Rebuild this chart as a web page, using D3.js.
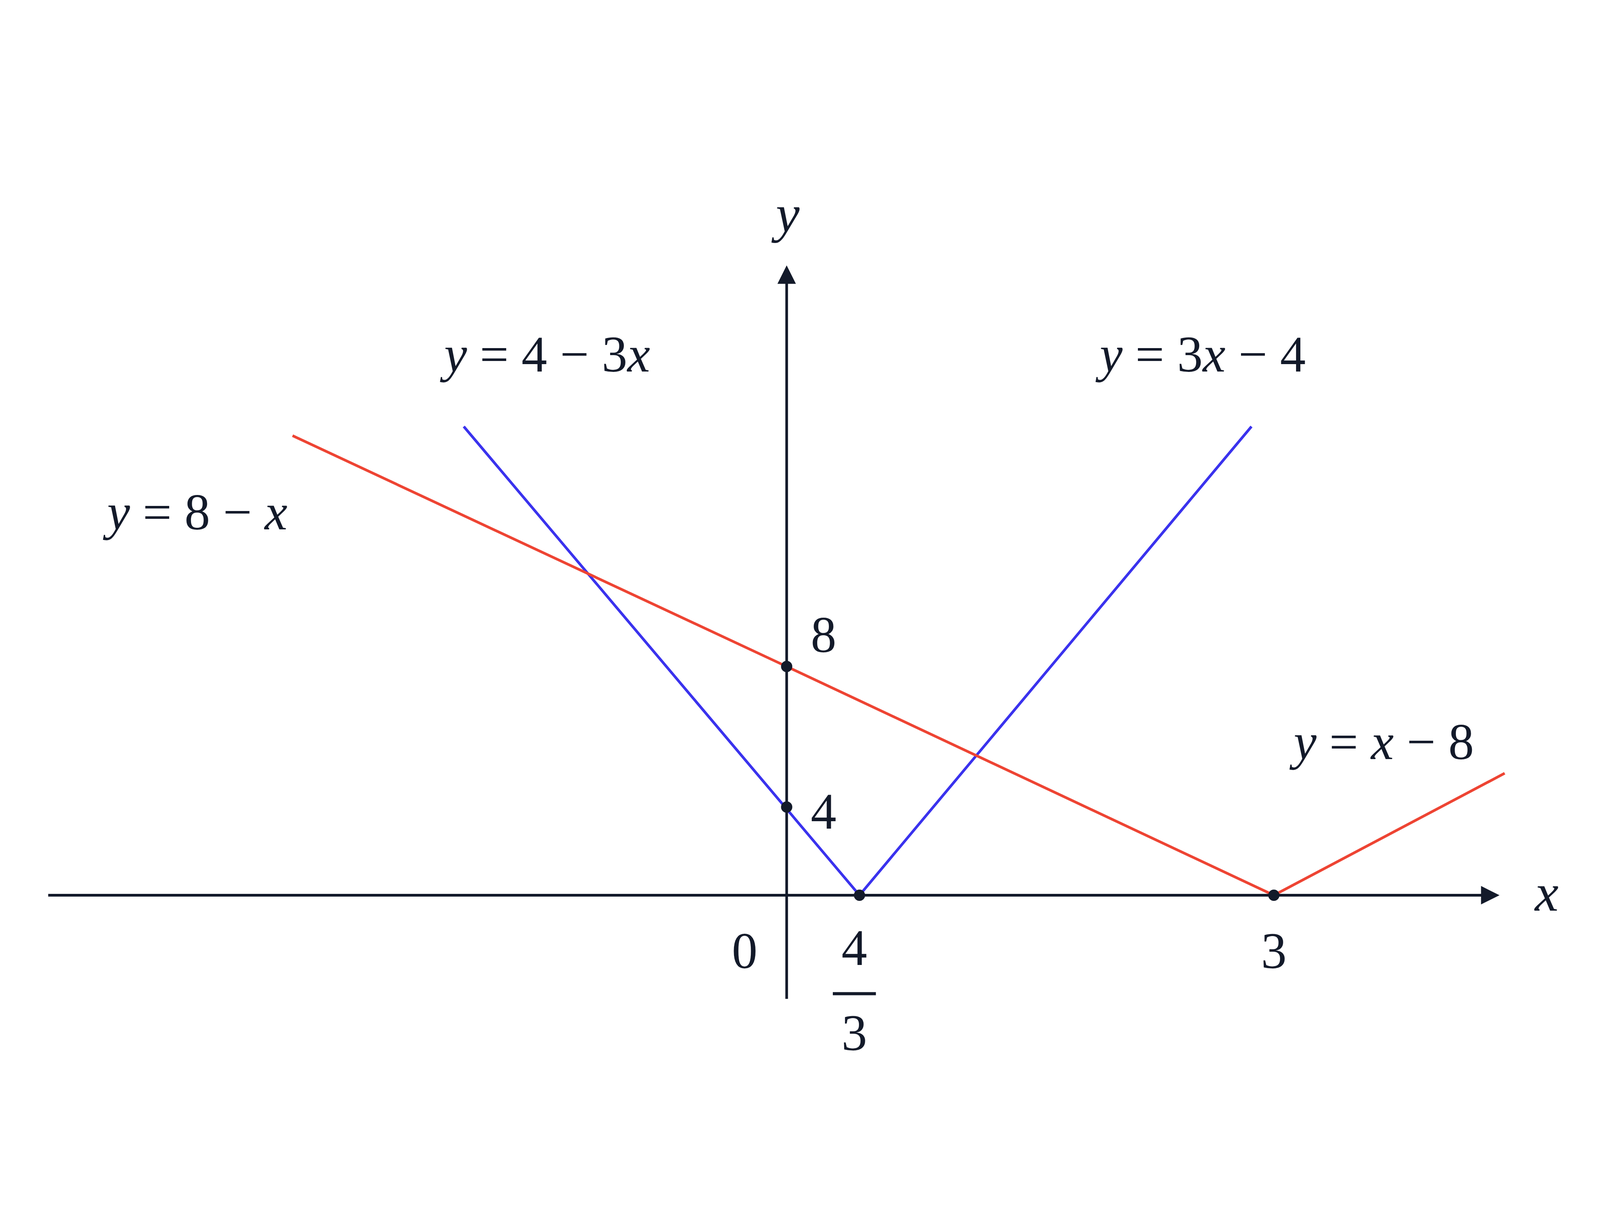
<!DOCTYPE html>
<html><head><meta charset="utf-8">
<script src="https://cdn.jsdelivr.net/npm/d3@7"></script>
<style>html,body{margin:0;padding:0;background:#fff;overflow:hidden}svg{display:block}</style></head>
<body><svg id="c" viewBox="0 0 1560 933" preserveAspectRatio="xMidYMid meet" style="width:100vw;height:100vh"></svg>
<script>
// schematic figure: piecewise scales (not to true scale, as in reference)
const xBreaks = [-10, 0, 4/3, 3, 5];
const yBreaks = [0, 4, 8, 16];
const blueLine = [[-5.94, 14.83], [4/3, 0], [2.91, 14.83]];   // y=|3x-4|
const redLine  = [[-9.09, 14.57], [0, 8], [3, 0], [3.93, 4.96]]; // y=|x-8|
const dots = [[0, 8], [0, 4], [4/3, 0], [3, 0]];
const lineLabels = [
  {pre: "y = ", t: "8 − ", v: "x", x: -12.5, y: 11.9},
  {pre: "y = ", t: "4 − 3", v: "x", x: -6.3, y: 16.4},
  {pre: "y = ", t: "3", v: "x", post: " − 4", x: 2.3, y: 16.4},
  {pre: "y = ", v: "x", post: " − 8", x: 3.08, y: 5.36}
];

const svg = d3.select("#c");
const g = svg.append("g");
const x = d3.scaleLinear().domain(xBreaks).range([767-53*10, 767, 838, 1242, 1242+242*2]);
const y = d3.scaleLinear().domain(yBreaks).range([747, 661, 524, 524-34.25*8]);
const ink = "#131a2a";
const serif = "'Liberation Serif','DejaVu Serif',serif";

g.append("line").attr("x1", 47).attr("x2", 1450).attr("y1", y(0)).attr("y2", y(0)).attr("stroke", ink).attr("stroke-width", 2.6);
g.append("path").attr("d", `M1462,${y(0)} L1444,${y(0)-9} L1444,${y(0)+9}Z`).attr("fill", ink);
g.append("line").attr("x1", x(0)).attr("x2", x(0)).attr("y1", 848).attr("y2", 145).attr("stroke", ink).attr("stroke-width", 2.6);
g.append("path").attr("d", `M${x(0)},133 L${x(0)-9},151 L${x(0)+9},151Z`).attr("fill", ink);

const line = d3.line().x(d => x(d[0])).y(d => y(d[1]));
g.append("path").attr("d", line(blueLine)).attr("fill", "none").attr("stroke", "#3a32ee").attr("stroke-width", 2.6);
g.append("path").attr("d", line(redLine)).attr("fill", "none").attr("stroke", "#ee4433").attr("stroke-width", 2.6);
g.selectAll("circle").data(dots).join("circle").attr("cx", d => x(d[0])).attr("cy", d => y(d[1])).attr("r", 5.5).attr("fill", ink);

function txt(px, py, s, size, anchor, italic) {
  return g.append("text").attr("x", px).attr("y", py).attr("font-family", serif).attr("font-size", size)
    .attr("fill", ink).attr("text-anchor", anchor || "start").attr("font-style", italic ? "italic" : "normal").text(s);
}
txt(768, 100, "y", 52, "middle", true);
txt(1508, 762, "x", 52, "middle", true);
txt(726, 818, "0", 50, "middle");
txt(1242, 818, "3", 50, "middle");
txt(803, 510, "8", 50, "middle");
txt(803, 682, "4", 50, "middle");
txt(833, 815, "4", 50, "middle");
g.append("line").attr("x1", 812).attr("x2", 854).attr("y1", 843).attr("y2", 843).attr("stroke", ink).attr("stroke-width", 3);
txt(833, 898, "3", 50, "middle");

lineLabels.forEach(L => {
  const t = g.append("text").attr("x", x(L.x)).attr("y", y(L.y)).attr("font-family", serif).attr("font-size", 50).attr("fill", ink);
  t.append("tspan").attr("font-style", "italic").text("y");
  t.append("tspan").text(" = ");
  if (L.t) t.append("tspan").text(L.t);
  t.append("tspan").attr("font-style", "italic").text(L.v);
  if (L.post) t.append("tspan").text(L.post);
});
</script></body></html>
